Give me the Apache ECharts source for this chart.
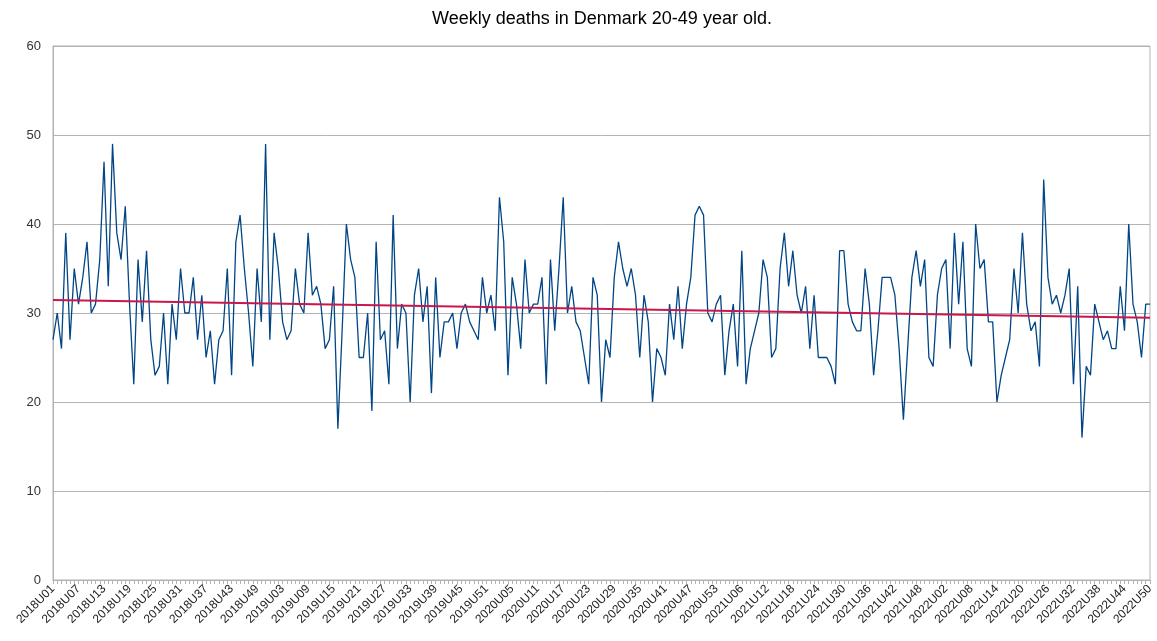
<!DOCTYPE html>
<html>
<head>
<meta charset="utf-8">
<script src="https://cdn.jsdelivr.net/npm/echarts@6/dist/echarts.min.js"></script>
<style>
html, body { margin: 0; padding: 0; background: #fff; }
#main { width: 1157px; height: 641px; }
</style>
</head>
<body>
<div id="main"></div>
<script>
// weeks per year in the data
var years = [2018, 2019, 2020, 2021, 2022];
var weeksInYear = [52, 52, 53, 52, 50];

var deaths2018 = [27, 30, 26, 39, 27, 35, 31, 34, 38, 30, 31, 36, 47, 33, 49, 39, 36, 42, 31, 22,
  36, 29, 37, 27, 23, 24, 30, 22, 31, 27, 35, 30, 30, 34, 27, 32, 25, 28, 22, 27,
  28, 35, 23, 38, 41, 35, 30, 24, 35, 29, 49, 27];
var deaths2019 = [39, 35, 29, 27, 28, 35, 31, 30, 39, 32, 33, 31, 26, 27, 33, 17, 28, 40, 36, 34,
  25, 25, 30, 19, 38, 27, 28, 22, 41, 26, 31, 30, 20, 32, 35, 29, 33, 21, 34, 25,
  29, 29, 30, 26, 30, 31, 29, 28, 27, 34, 30, 32];
var deaths2020 = [28, 43, 38, 23, 34, 31, 26, 36, 30, 31, 31, 34, 22, 36, 28, 35, 43, 30, 33, 29,
  28, 25, 22, 34, 32, 20, 27, 25, 34, 38, 35, 33, 35, 32, 25, 32, 29, 20, 26, 25,
  23, 31, 27, 33, 26, 31, 34, 41, 42, 41, 30, 29, 31];
var deaths2021 = [32, 23, 28, 31, 24, 37, 22, 26, 28, 30, 36, 34, 25, 26, 35, 39, 33, 37, 32, 30,
  33, 26, 32, 25, 25, 25, 24, 22, 37, 37, 31, 29, 28, 28, 35, 31, 23, 28, 34, 34,
  34, 32, 26, 18, 26, 34, 37, 33, 36, 25, 24, 32];
var deaths2022 = [35, 36, 26, 39, 31, 38, 26, 24, 40, 35, 36, 29, 29, 20, 23, 25, 27, 35, 30, 39,
  31, 28, 29, 24, 45, 34, 31, 32, 30, 32, 35, 22, 33, 16, 24, 23, 31, 29, 27, 28,
  26, 26, 33, 28, 40, 31, 29, 25, 31, 31];

// linear trend line, read at first and last week
var trendValues = [31.46, 29.47];

var weeks = [];
years.forEach(function (y, k) {
  for (var w = 1; w <= weeksInYear[k]; w++) {
    weeks.push(y + 'U' + (w < 10 ? '0' + w : w));
  }
});
var deaths = [].concat(deaths2018, deaths2019, deaths2020, deaths2021, deaths2022);

var myChart = echarts.init(document.getElementById('main'));
myChart.setOption({
  animation: false,
  backgroundColor: '#fff',
  textStyle: { fontFamily: 'Liberation Sans, Arial, sans-serif' },
  title: {
    text: 'Weekly deaths in Denmark 20-49 year old.',
    left: 597,
    textAlign: 'center',
    top: 5,
    textStyle: { fontSize: 18, fontWeight: 'normal', color: '#000', fontFamily: 'Liberation Sans, Arial, sans-serif' }
  },
  grid: {
    left: 53,
    right: 7,
    top: 46,
    bottom: 61,
    show: true,
    borderColor: '#b3b3b3',
    borderWidth: 1,
    containLabel: false
  },
  xAxis: {
    type: 'category',
    data: weeks,
    boundaryGap: false,
    axisLine: { show: true, lineStyle: { color: '#b3b3b3', width: 1 } },
    axisTick: {
      show: true,
      interval: 0,
      length: 4,
      inside: false,
      lineStyle: { color: '#b3b3b3' }
    },
    axisLabel: {
      interval: 5,
      rotate: 45,
      margin: 7,
      fontSize: 12,
      color: '#222'
    },
    splitLine: { show: false }
  },
  yAxis: {
    type: 'value',
    min: 0,
    max: 60,
    interval: 10,
    axisLine: { show: true, lineStyle: { color: '#b3b3b3' } },
    axisTick: { show: false },
    axisLabel: { fontSize: 13, color: '#333', margin: 12 },
    splitLine: { show: true, lineStyle: { color: '#b3b3b3', width: 1 } }
  },
  series: [
    {
      name: 'Deaths',
      type: 'line',
      data: deaths,
      symbol: 'none',
      lineStyle: { color: '#004586', width: 1.3 },
      itemStyle: { color: '#004586' },
      z: 2,
      markLine: {
        silent: true,
        symbol: ['none', 'none'],
        label: { show: false },
        lineStyle: { color: '#c8174a', width: 2, type: 'solid' },
        data: [[
          { coord: [weeks[0], trendValues[0]] },
          { coord: [weeks[weeks.length - 1], trendValues[1]] }
        ]]
      }
    }
  ]
});
</script>
</body>
</html>
